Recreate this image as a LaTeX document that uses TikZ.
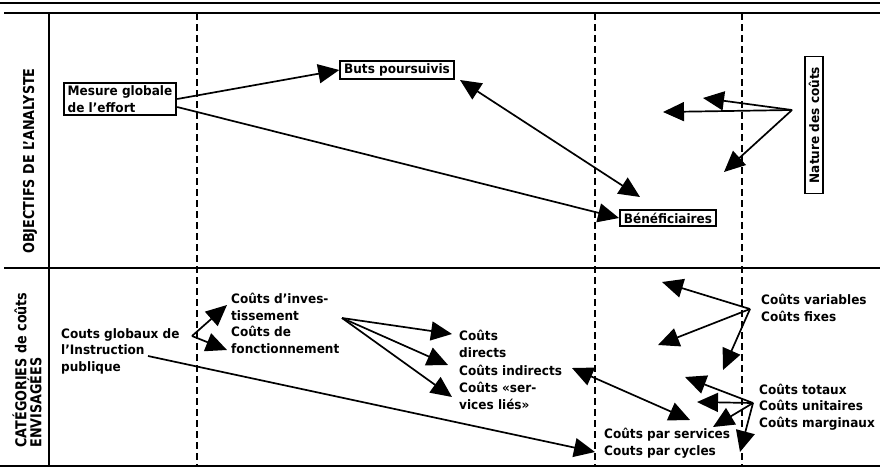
\documentclass[tikz,border=0pt]{standalone}
\usepackage{fontspec}
\setmainfont[FakeStretch=0.93]{DejaVu Sans}
\newfontfamily\headfont[FakeStretch=0.85]{DejaVu Sans}
\usetikzlibrary{arrows.meta,calc}

\begin{document}
\begin{tikzpicture}[x=1pt,y=-1pt,
  every node/.style={font=\bfseries\fontsize{13}{16.5}\selectfont,inner sep=0pt},
  box/.style={draw,line width=1.8pt,inner xsep=4pt,inner ysep=3pt},
  head/.style={font=\headfont\bfseries\fontsize{15}{15}\selectfont,rotate=90},
  arr/.style={-{Triangle[length=21pt,width=19pt]},line width=1.7pt},
  darr/.style={{Triangle[length=21pt,width=19pt]}-{Triangle[length=21pt,width=19pt]},line width=1.7pt},
  sep/.style={dash pattern=on 7pt off 4pt,line width=1.6pt}]
\useasboundingbox (0,0) rectangle (880,471);
% frame
\draw[line width=2pt] (0,3) -- (880,3);
\draw[line width=2pt] (4,13) -- (880,13);
\draw[line width=2pt] (49,13) -- (49,466);
\draw[line width=2pt] (4,268) -- (880,268);
\draw[line width=2pt] (0,466) -- (880,466);
\foreach \x in {197,595,742}
  \draw[sep] (\x,13) -- (\x,466);
% row titles
\node[head] (objectifs) at (30,161) {OBJECTIFS DE L’ANALYSTE};
\node[head,align=left] (categories) at (27,370) {CATÉGORIES de coûts\\ENVISAGÉES};
% objectifs de l'analyste
\node[box,align=left] (mesure) at (120,99) {Mesure globale\\de l’effort};
\node[box] (buts) at (397,70) {Buts poursuivis};
\node[box] (benef) at (668,218) {Bénéficiaires};
\node[box,rotate=90,minimum width=137pt,inner ysep=4pt] (nature) at (814,125) {Nature des coûts};
\coordinate (butsend) at (460,80);
\coordinate (benefend) at (640,197);
\coordinate (hubnat) at (792,110);
\coordinate (nat1) at (663,112);
\coordinate (nat2) at (703,98);
\coordinate (nat3) at (724,172);
\draw[arr] (mesure.east) -- (buts.west);
\draw[arr] ($(mesure.east)+(0,8)$) -- (benef.west);
\draw[darr] (butsend) -- (benefend);
\draw[arr] (hubnat) -- (nat1);
\draw[arr] (hubnat) -- (nat2);
\draw[arr] (hubnat) -- (nat3);
% categories de couts
\node[align=left,anchor=west] (globaux) at (61,351) {Couts globaux de\\l’Instruction\\publique};
\node[align=left,anchor=west] (invest) at (231,307) {Coûts d’inves-\\tissement};
\node[align=left,anchor=west] (fonct) at (231,340) {Coûts de\\fonctionnement};
\node[align=left,anchor=west] (directs) at (459,344) {Coûts\\directs};
\node[anchor=west] (indirects) at (459,370) {Coûts indirects};
\node[align=left,anchor=west] (servlies) at (459,396) {Coûts «ser-\\vices liés»};
\node[align=left,anchor=west] (varfix) at (761,308) {Coûts variables\\Coûts fixes};
\node[align=left,anchor=west] (totaux) at (759,407) {Coûts totaux\\Coûts unitaires\\Coûts marginaux};
\node[align=left,anchor=west] (parserv) at (604,443) {Coûts par services\\Couts par cycles};
\coordinate (globhub) at (192,336);
\coordinate (globline) at (148,356);
\coordinate (investend) at (227,305);
\coordinate (fonctend) at (227,350);
\coordinate (cyclesend) at (595,452);
\coordinate (hubinv) at (342,318);
\coordinate (indend) at (572,368);
\coordinate (servend) at (690,420);
\coordinate (hubvar) at (750,309);
\coordinate (var1) at (662,282);
\coordinate (var2) at (658,345);
\coordinate (var3) at (723,370);
\coordinate (hubtot) at (753,403);
\coordinate (tot1) at (685,377);
\coordinate (tot2) at (697,402);
\coordinate (tot3) at (713,427);
\coordinate (tot4) at (740,452);
\draw[arr] (globhub) -- (investend);
\draw[arr] (globhub) -- (fonctend);
\draw[arr] (globline) -- (cyclesend);
\draw[arr] (hubinv) -- ($(directs.west)+(-7,-10)$);
\draw[arr] (hubinv) -- ($(indirects.west)+(-11,-5)$);
\draw[arr] (hubinv) -- ($(servlies.west)+(-7,1)$);
\draw[darr] (indend) -- (servend);
\draw[arr] (hubvar) -- (var1);
\draw[arr] (hubvar) -- (var2);
\draw[arr] (hubvar) -- (var3);
\draw[arr] (hubtot) -- (tot1);
\draw[arr] (hubtot) -- (tot2);
\draw[arr] (hubtot) -- (tot3);
\draw[arr] (hubtot) -- (tot4);
\end{tikzpicture}
\end{document}
